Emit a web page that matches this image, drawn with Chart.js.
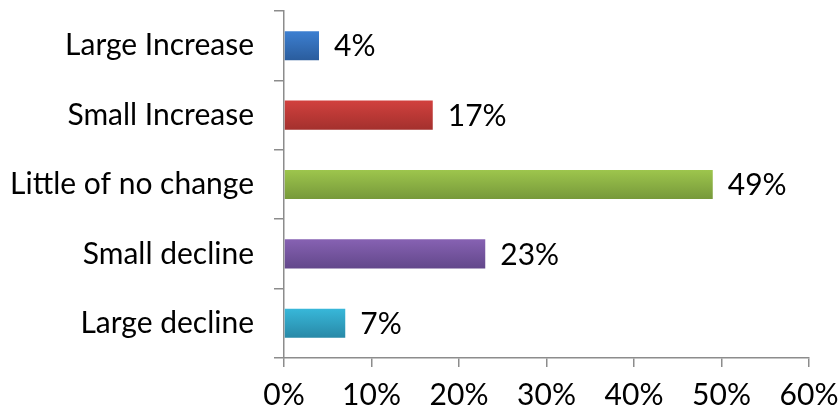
<!DOCTYPE html>
<html>
<head>
<meta charset="utf-8">
<script src="https://cdn.jsdelivr.net/npm/chart.js@4.4.0/dist/chart.umd.min.js"></script>
<style>
  html, body { margin: 0; padding: 0; background: #fff; }
  #wrap { width: 840px; height: 413px; }
</style>
</head>
<body>
<div id="wrap"><canvas id="chart"></canvas></div>
<script>
const categories = ['Large Increase', 'Small Increase', 'Little of no change', 'Small decline', 'Large decline'];
const shares = [4, 17, 49, 23, 7];
const barTops = ['#3d80d2', '#d2413e', '#9ec64d', '#8762b3', '#38b8da'];
const barBottoms = ['#2a5c9c', '#a3302d', '#76983a', '#62478a', '#2888a6'];

const FONT = 'Lato, Calibri, "Open Sans", sans-serif';
const FONT_SIZE = 30;
const AXIS_GREY = '#8c8c8c';

// gradient per bar, light on top, darker at the bottom
function barFill(ctx) {
  const chart = ctx.chart;
  const yScale = chart.scales && chart.scales.y;
  if (!yScale || !chart.chartArea) return barTops[ctx.dataIndex];
  const cy = yScale.getPixelForValue(ctx.dataIndex);
  if (!Number.isFinite(cy)) return barTops[ctx.dataIndex];
  const h = 15;
  const g = chart.ctx.createLinearGradient(0, cy - h, 0, cy + h);
  g.addColorStop(0, barTops[ctx.dataIndex]);
  g.addColorStop(1, barBottoms[ctx.dataIndex]);
  return g;
}

const valueLabels = {
  id: 'valueLabels',
  afterDatasetsDraw(chart) {
    const ctx = chart.ctx;
    ctx.save();
    ctx.font = FONT_SIZE + 'px ' + FONT;
    ctx.fillStyle = '#000';
    ctx.textBaseline = 'middle';
    ctx.textAlign = 'left';
    chart.getDatasetMeta(0).data.forEach((bar, i) => {
      ctx.fillText(shares[i] + '%', bar.x + 15, bar.y + 1);
    });
    ctx.restore();
  }
};

new Chart(document.getElementById('chart'), {
  type: 'bar',
  data: {
    labels: categories,
    datasets: [{
      data: shares,
      backgroundColor: barFill,
      borderWidth: 0,
      categoryPercentage: 0.42,
      barPercentage: 1
    }]
  },
  options: {
    indexAxis: 'y',
    responsive: true,
    maintainAspectRatio: false,
    animation: false,
    layout: { padding: { top: 11, right: 31, bottom: 0, left: 0 } },
    plugins: { legend: { display: false }, tooltip: { enabled: false } },
    scales: {
      x: {
        min: 0,
        max: 60,
        afterFit: s => { s.height = 55; s.paddingLeft = 0; s.paddingRight = 0; },
        ticks: {
          stepSize: 10,
          color: '#000',
          font: { family: FONT, size: FONT_SIZE },
          padding: 10,
          maxRotation: 0,
          callback: v => v + '%'
        },
        grid: { drawOnChartArea: false, drawTicks: true, tickLength: 9, color: AXIS_GREY, lineWidth: 1.5 },
        border: { color: AXIS_GREY, width: 1.5 }
      },
      y: {
        afterFit: s => { s.width = 284; s.paddingTop = 0; s.paddingBottom = 0; },
        ticks: {
          color: '#000',
          font: { family: FONT, size: FONT_SIZE },
          padding: 20
        },
        grid: { drawOnChartArea: false, drawTicks: true, tickLength: 10, color: AXIS_GREY, lineWidth: 1.5 },
        border: { color: AXIS_GREY, width: 1.5 }
      }
    }
  },
  plugins: [valueLabels]
});
</script>
</body>
</html>
